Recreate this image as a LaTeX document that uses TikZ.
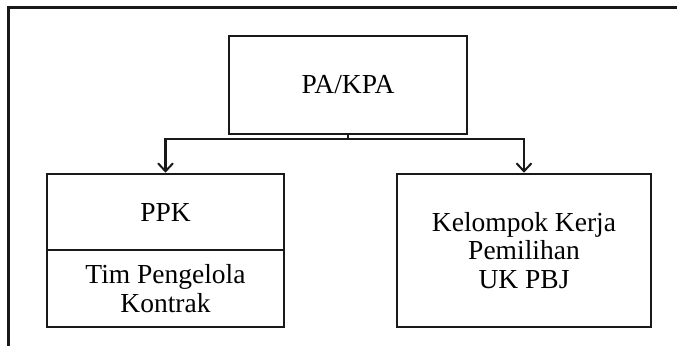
\documentclass[tikz,border=0pt]{standalone}
\usepackage{fontspec}
\setmainfont{Liberation Serif}
\usetikzlibrary{arrows.meta}
\begin{document}
\begin{tikzpicture}[x=1pt,y=-1pt,
  box/.style={draw=black!90,line width=2.6pt,inner sep=0pt,align=center,
    font=\fontsize{27.5}{28.5}\selectfont},
  conn/.style={draw=black!90,line width=2.6pt},
  arr/.style={conn,-{Straight Barb[length=8pt,width=15pt,line width=2pt]}}]
\useasboundingbox (0,0) rectangle (677,346);
% frame
\draw[line width=3pt,black!90] (677,7) -- (8,7) -- (8,346);
% nodes
\node[box,minimum width=238pt,minimum height=98pt] (pa) at (348,85) {PA/KPA};
\node[box,minimum width=237pt,minimum height=76pt] (ppk) at (165.5,212) {PPK};
\node[box,minimum width=237pt,minimum height=77pt] (tim) at (165.5,288.5) {Tim Pengelola\\Kontrak};
\node[box,minimum width=254pt,minimum height=153pt] (kk) at (524,250.5) {Kelompok Kerja\\Pemilihan\\UK PBJ};
% connectors
\coordinate (split) at (pa.south |- 0,139);
\draw[conn] (pa.south) -- ([yshift=1.3pt]split);
\draw[arr] (split) -| (ppk.north);
\draw[arr] (split) -| (kk.north);
\end{tikzpicture}
\end{document}
